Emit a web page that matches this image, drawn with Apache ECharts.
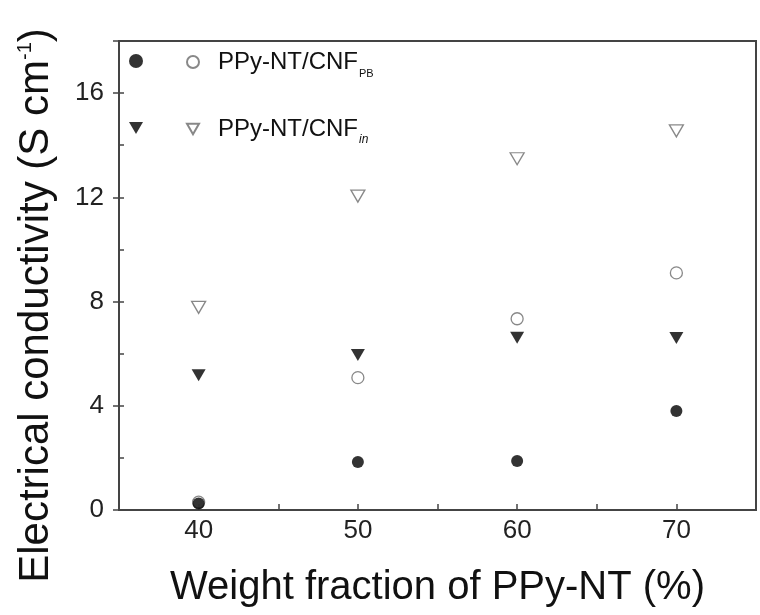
<!DOCTYPE html>
<html>
<head>
<meta charset="utf-8">
<script src="https://cdn.jsdelivr.net/npm/echarts@6/dist/echarts.min.js"></script>
<style>html,body{margin:0;padding:0;background:#fff}#c{width:760px;height:615px}</style>
</head>
<body>
<div id="c"></div>
<script>
const xValues = [40, 50, 60, 70];
const pbFilled = [0.25, 1.84, 1.88, 3.8];
const pbOpen = [0.3, 5.08, 7.34, 9.1];
const inFilled = [5.17, 5.95, 6.61, 6.6];
const inOpen = [7.78, 12.05, 13.48, 14.55];
const xTickLabels = [40, 50, 60, 70];
const yTickLabels = [0, 4, 8, 12, 16];

const pair = arr => xValues.map((x, i) => [x, arr[i]]);
const FONT = 'Liberation Sans, Arial, sans-serif';
const tri = 'path://M0,0L10,0L5,8.66Z';
const openStyle = {color: '#fff', borderColor: '#6a6a6a', borderWidth: 1.3};
const fillStyle = {color: '#000'};

const chart = echarts.init(document.getElementById('c'));
chart.setOption({
  backgroundColor: '#fff',
  animation: false,
  grid: {left: 119, right: 4, top: 41, bottom: 105, show: true, borderColor: '#444', borderWidth: 2},
  legend: [
    {
      data: ['PB filled', 'in filled'],
      orient: 'vertical', left: 129, top: 54, padding: 0,
      itemWidth: 14, itemHeight: 14, itemGap: 53,
      formatter: () => '',
      textStyle: {fontSize: 1}
    },
    {
      data: ['PB open', 'in open'],
      orient: 'vertical', left: 186, top: 50, padding: 0,
      itemWidth: 12, itemHeight: 12, itemGap: 38,
      formatter: name => name === 'PB open'
        ? '{m|PPy-NT/CNF}{s|PB}'
        : '{m|PPy-NT/CNF}{i|in}',
      textStyle: {
        fontFamily: FONT, color: '#111',
        rich: {
          m: {fontSize: 24, fontFamily: FONT, color: '#111', lineHeight: 34, verticalAlign: 'middle', padding: [0, 0, 0, 14]},
          s: {fontSize: 11, fontFamily: FONT, color: '#111', lineHeight: 11, verticalAlign: 'bottom', padding: [0, 0, 0, 1]},
          i: {fontSize: 12, fontFamily: FONT, fontStyle: 'italic', color: '#111', lineHeight: 12, verticalAlign: 'bottom', padding: [0, 0, 0, 1]}
        }
      }
    }
  ],
  xAxis: {
    type: 'value', min: 35, max: 75, interval: 5,
    name: 'Weight fraction of PPy-NT (%)', nameLocation: 'middle', nameGap: 58,
    nameTextStyle: {fontFamily: FONT, fontSize: 40, color: '#111'},
    axisLine: {show: true, lineStyle: {color: '#444', width: 2}},
    axisTick: {show: true, inside: true, length: 6, lineStyle: {color: '#444', width: 1.5}},
    axisLabel: {
      fontFamily: FONT, fontSize: 26, color: '#222', margin: 8,
      formatter: v => xTickLabels.includes(v) ? String(v) : ''
    },
    splitLine: {show: false}
  },
  yAxis: [
    {
      type: 'value', min: 0, max: 18, interval: 4,
      name: '{a|Electrical conductivity (S cm}{s|-1}{a|)}', nameLocation: 'middle', nameGap: 62,
      nameTextStyle: {
        fontFamily: FONT, color: '#111', padding: [0, 60, 0, 0],
        rich: {
          a: {fontFamily: FONT, fontSize: 42, color: '#111'},
          s: {fontFamily: FONT, fontSize: 20, color: '#111', padding: [0, 0, 22, 0]}
        }
      },
      axisLine: {show: true, lineStyle: {color: '#444', width: 2}},
      axisTick: {show: true, inside: false, length: 6, lineStyle: {color: '#444', width: 1.5}},
      axisLabel: {
        fontFamily: FONT, fontSize: 26, color: '#222', margin: 15,
        formatter: v => yTickLabels.includes(v) ? String(v) : ''
      },
      splitLine: {show: false}
    },
    {
      type: 'value', min: 0, max: 18, interval: 2, position: 'left',
      axisLine: {show: false},
      axisTick: {show: true, inside: true, length: 5, lineStyle: {color: '#444', width: 1.5}},
      axisLabel: {show: false},
      splitLine: {show: false}
    }
  ],
  series: [
    {name: 'PB open', type: 'scatter', data: pair(pbOpen), symbol: 'circle', symbolSize: 12, itemStyle: openStyle, z: 2},
    {name: 'PB filled', type: 'scatter', data: pair(pbFilled), symbol: 'circle', symbolSize: 12, itemStyle: fillStyle, z: 3},
    {name: 'in filled', type: 'scatter', data: pair(inFilled), symbol: tri, symbolSize: [14, 12], itemStyle: fillStyle, z: 3},
    {name: 'in open', type: 'scatter', data: pair(inOpen), symbol: tri, symbolSize: [14, 12], itemStyle: openStyle, z: 2}
  ]
});
</script>
</body>
</html>
